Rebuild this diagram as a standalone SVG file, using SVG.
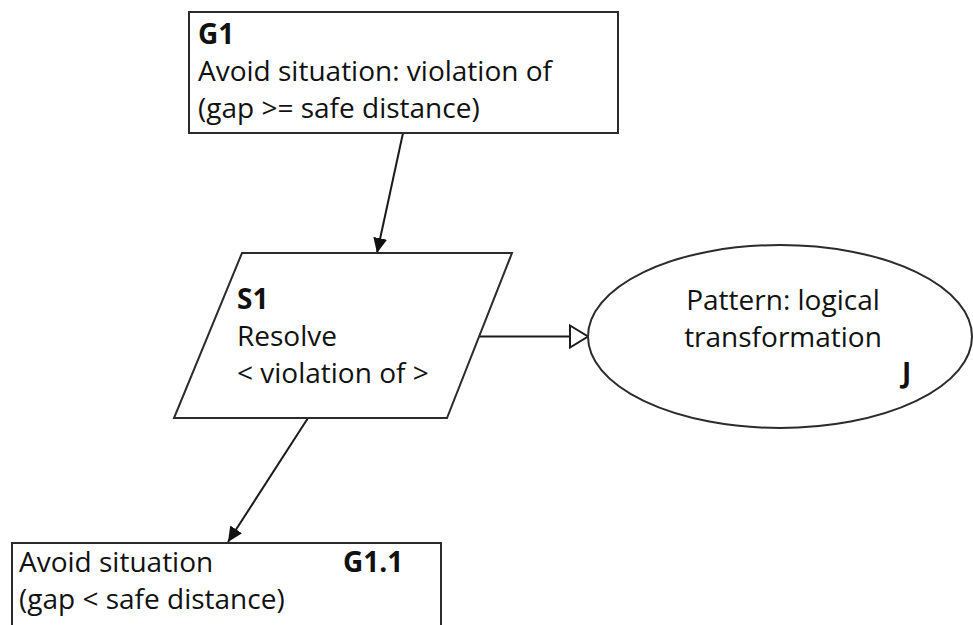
<svg xmlns="http://www.w3.org/2000/svg" width="973" height="625" viewBox="0 0 973 625">
  <style>
    .shape { fill: #ffffff; stroke: #2b2b2b; stroke-width: 2; }
    .txt { font-family: "Open Sans", "Liberation Sans", sans-serif; font-size: 28px; fill: #111111; }
    .bold { font-weight: bold; }
    .link { fill: none; stroke: #1a1a1a; stroke-width: 2; }
  </style>
  <defs>
    <marker id="solidHead" markerUnits="userSpaceOnUse" markerWidth="16" markerHeight="14" refX="15" refY="7" orient="auto">
      <path d="M0,0 L15,7 L0,14 Z" fill="#111111"/>
    </marker>
  </defs>
  <rect width="973" height="625" fill="#ffffff"/>

  <!-- connectors -->
  <g id="connectors">
    <line class="link" x1="403" y1="133" x2="377" y2="253" marker-end="url(#solidHead)"/>
    <line class="link" x1="308" y1="418" x2="228" y2="542" marker-end="url(#solidHead)"/>
    <line class="link" x1="478" y1="336.5" x2="570" y2="336.5"/>
    <polygon points="570,325.5 588,336.5 570,347.5" fill="#ffffff" stroke="#1a1a1a" stroke-width="2"/>
  </g>

  <!-- goal G1 -->
  <g id="G1">
    <rect class="shape" x="189" y="12" width="429" height="121"/>
    <text class="txt bold" x="198" y="44">G1</text>
    <text class="txt" x="198" y="81">Avoid situation: violation of</text>
    <text class="txt" x="198" y="118">(gap &gt;= safe distance)</text>
  </g>

  <!-- strategy S1 -->
  <g id="S1">
    <polygon class="shape" points="242,253 512,253 447,418 174,418"/>
    <text class="txt bold" x="237" y="309">S1</text>
    <text class="txt" x="237" y="346">Resolve</text>
    <text class="txt" x="237" y="383">&lt; violation of &gt;</text>
  </g>

  <!-- justification J -->
  <g id="J">
    <ellipse class="shape" cx="780" cy="336.5" rx="192" ry="91.5"/>
    <text class="txt" x="783" y="310" text-anchor="middle">Pattern: logical</text>
    <text class="txt" x="783" y="347" text-anchor="middle">transformation</text>
    <text class="txt bold" x="902" y="383">J</text>
  </g>

  <!-- goal G1.1 -->
  <g id="G1_1">
    <rect class="shape" x="12" y="543" width="429" height="100"/>
    <text class="txt" x="19" y="572">Avoid situation</text>
    <text class="txt bold" x="343" y="572">G1.1</text>
    <text class="txt" x="19" y="609">(gap &lt; safe distance)</text>
  </g>
</svg>
